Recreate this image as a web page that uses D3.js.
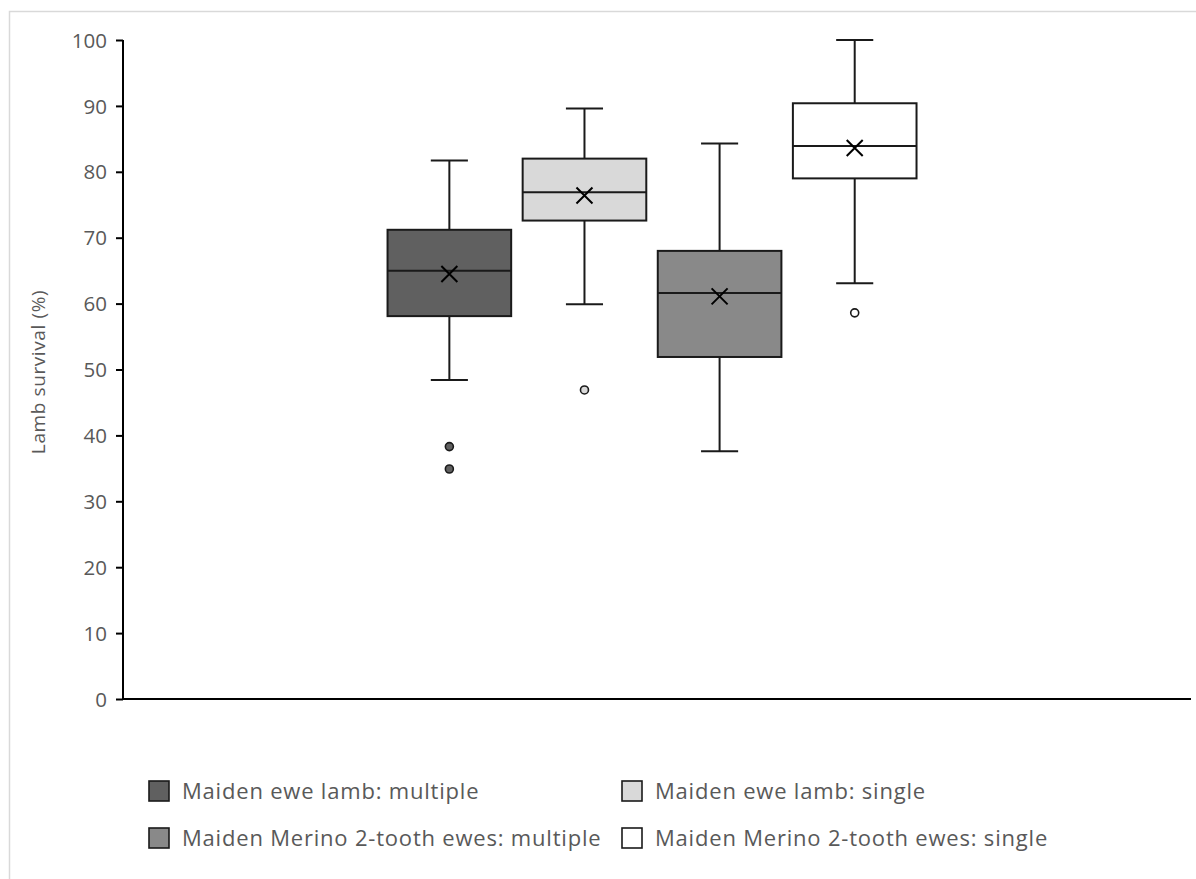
<!DOCTYPE html>
<html>
<head>
<meta charset="utf-8">
<script src="https://cdn.jsdelivr.net/npm/d3@7"></script>
<style>
  html, body { margin: 0; padding: 0; background: #fff; }
  svg { display: block; }
  text { font-family: "Open Sans", "Noto Sans", sans-serif; fill: #595959; }
</style>
</head>
<body>
<svg id="chart" width="1196" height="879"></svg>
<script>
// Lamb survival (%) by ewe group: five-number summaries, means and outliers
const series = [
  "Maiden ewe lamb: multiple",
  "Maiden ewe lamb: single",
  "Maiden Merino 2-tooth ewes: multiple",
  "Maiden Merino 2-tooth ewes: single"
];
const fills = ["#606060", "#d9d9d9", "#898989", "#ffffff"];
const whiskerLow  = [48.4, 59.9, 37.6, 63.1];
const q1          = [58.1, 72.6, 51.9, 79.0];
const median      = [65.0, 76.9, 61.6, 83.9];
const q3          = [71.2, 82.0, 68.0, 90.4];
const whiskerHigh = [81.7, 89.6, 84.3, 100.0];
const mean        = [64.5, 76.4, 61.1, 83.6];
const outliers    = [[38.3, 34.9], [46.9], [], [58.6]];
const yTicks      = [0, 10, 20, 30, 40, 50, 60, 70, 80, 90, 100];

const svg = d3.select("#chart");

// outer chart frame
svg.append("rect")
  .attr("x", 9.5).attr("y", 11.5)
  .attr("width", 1300).attr("height", 1000)
  .attr("fill", "none").attr("stroke", "#d9d9d9").attr("stroke-width", 1.5);

const plot = { left: 123, right: 1191, top: 40, bottom: 699 };

const y = d3.scaleLinear().domain([0, 100]).range([plot.bottom, plot.top]);

// the four series share one category; the group sits near the middle of the plot
const plotW = plot.right - plot.left;
const groupStart = plot.left + plotW * 0.2477;
const groupEnd = plot.left + plotW * 0.7430;
const x1 = d3.scaleBand().domain(series)
  .range([groupStart, groupEnd])
  .paddingInner(0.085).paddingOuter(0);
const bw = x1.bandwidth();

// y axis
const yAxis = d3.axisLeft(y).tickValues(yTicks).tickSize(7).tickPadding(9);
const gy = svg.append("g").attr("transform", `translate(${plot.left},0)`).call(yAxis);
gy.select(".domain").attr("stroke", "#000").attr("stroke-width", 2)
  .attr("d", `M0,${plot.top}V${plot.bottom}`);
gy.selectAll(".tick line").attr("stroke", "#000").attr("stroke-width", 2);
gy.selectAll(".tick text")
  .style("font-size", "20.5px").style("font-family", "'Open Sans', 'Noto Sans', sans-serif")
  .attr("fill", "#595959").attr("dy", "0.35em");

// x axis baseline
svg.append("line")
  .attr("x1", plot.left).attr("x2", plot.right)
  .attr("y1", y(0)).attr("y2", y(0))
  .attr("stroke", "#000").attr("stroke-width", 2);

// y axis title
svg.append("text")
  .attr("transform", `translate(45,${372}) rotate(-90)`)
  .attr("text-anchor", "middle")
  .style("font-size", "19px")
  .style("letter-spacing", "0.6px")
  .text("Lamb survival (%)");

// boxes
const boxes = svg.append("g");
series.forEach((s, i) => {
  const g = boxes.append("g");
  const cx = x1(s) + bw / 2;
  const capW = bw * 0.3;

  // whiskers with caps
  [[whiskerHigh[i], q3[i]], [whiskerLow[i], q1[i]]].forEach(([a, b]) => {
    g.append("line").attr("x1", cx).attr("x2", cx).attr("y1", y(a)).attr("y2", y(b))
      .attr("stroke", "#1a1a1a").attr("stroke-width", 2);
    g.append("line").attr("x1", cx - capW / 2).attr("x2", cx + capW / 2).attr("y1", y(a)).attr("y2", y(a))
      .attr("stroke", "#1a1a1a").attr("stroke-width", 2);
  });

  // interquartile box
  g.append("rect")
    .attr("x", x1(s)).attr("width", bw)
    .attr("y", y(q3[i])).attr("height", y(q1[i]) - y(q3[i]))
    .attr("fill", fills[i]).attr("stroke", "#1a1a1a").attr("stroke-width", 2);

  // median
  g.append("line")
    .attr("x1", x1(s)).attr("x2", x1(s) + bw)
    .attr("y1", y(median[i])).attr("y2", y(median[i]))
    .attr("stroke", "#1a1a1a").attr("stroke-width", 2);

  // mean marker
  const m = 8, my = y(mean[i]);
  g.append("path")
    .attr("d", `M${cx - m},${my - m}L${cx + m},${my + m}M${cx - m},${my + m}L${cx + m},${my - m}`)
    .attr("stroke", "#000").attr("stroke-width", 2).attr("fill", "none");

  // outliers
  g.selectAll("circle").data(outliers[i]).join("circle")
    .attr("cx", cx).attr("cy", d => y(d)).attr("r", 4)
    .attr("fill", fills[i]).attr("stroke", "#1a1a1a").attr("stroke-width", 1.6);
});

// legend, two columns
const legendX = [149, 622];
const legendY = [791, 838];
const legend = svg.append("g");
series.forEach((s, i) => {
  const lx = legendX[i % 2], ly = legendY[Math.floor(i / 2)];
  legend.append("rect")
    .attr("x", lx).attr("y", ly - 10).attr("width", 20).attr("height", 20)
    .attr("fill", fills[i]).attr("stroke", "#1a1a1a").attr("stroke-width", 1.6);
  legend.append("text")
    .attr("x", lx + 33).attr("y", ly).attr("dy", "0.35em")
    .style("font-size", "22px")
    .style("letter-spacing", "0.8px")
    .text(s);
});
</script>
</body>
</html>
